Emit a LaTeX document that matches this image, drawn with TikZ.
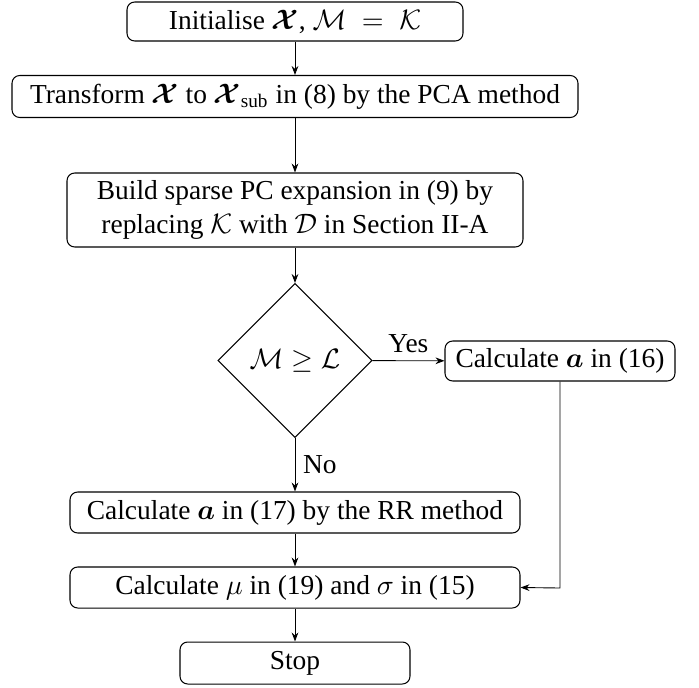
\documentclass[tikz,border=0pt]{standalone}
\usepackage{amsmath}
\usepackage{fontspec}
\setmainfont{Liberation Serif}
\usetikzlibrary{shapes.geometric,arrows.meta}
\begin{document}
\begin{tikzpicture}[x=0.39pt,y=-0.39pt,
  every node/.style={font=\fontsize{10.7}{13}\selectfont},
  box/.style={draw,rounded corners=3pt,line width=0.4pt,inner sep=0pt,align=center},
  dec/.style={draw,diamond,line width=0.4pt,inner sep=0pt,aspect=1,
    minimum width=154*0.39pt,minimum height=154*0.39pt},
  conn/.style={line width=0.35pt,-{Stealth[length=3.5pt,width=2.6pt]}},
  lbl/.style={inner sep=0pt}]
\useasboundingbox (0,0) rectangle (699,687);
\node[box,minimum width=336*0.39pt,minimum height=39*0.39pt] (n1) at (295,21.5)
  {Initialise $\boldsymbol{\mathcal{X}}$, $\mathcal{M}\;=\;\mathcal{K}$};
\node[box,minimum width=566*0.39pt,minimum height=42*0.39pt] (n2) at (295,96.5)
  {Transform $\boldsymbol{\mathcal{X}}$ to $\boldsymbol{\mathcal{X}}_{\text{sub}}$ in (8) by the PCA method};
\node[box,minimum width=456*0.39pt,minimum height=74*0.39pt] (n3) at (295,210)
  {Build sparse PC expansion in (9) by\\ replacing $\mathcal{K}$ with $\mathcal{D}$ in Section II-A};
\node[dec] (d) at (295,360.5) {$\mathcal{M}\geq\mathcal{L}$};
\node[box,minimum width=230*0.39pt,minimum height=40*0.39pt] (n4) at (560,361)
  {Calculate $\boldsymbol{a}$ in (16)};
\node[box,minimum width=450*0.39pt,minimum height=41*0.39pt] (n5) at (295,512.5)
  {Calculate $\boldsymbol{a}$ in (17) by the RR method};
\node[box,minimum width=450*0.39pt,minimum height=41*0.39pt] (n6) at (295,587.5)
  {Calculate $\mu$ in (19) and $\sigma$ in (15)};
\node[box,minimum width=230*0.39pt,minimum height=42*0.39pt] (stop) at (295,663)
  {Stop};
\coordinate (corner) at (560,588);
\draw[conn] (n1) -- (n2);
\draw[conn] (n2) -- (n3);
\draw[conn] (n3) -- (d);
\draw[conn] (d) -- node[lbl,anchor=west,xshift=3pt] {No} (n5);
\draw[conn] (d) -- node[lbl,above=3pt] {Yes} (n4);
\draw[conn] (n5) -- (n6);
\draw[conn] (n6) -- (stop);
\draw[conn] (n4) -- (corner) -- (n6.east);
\end{tikzpicture}
\end{document}
